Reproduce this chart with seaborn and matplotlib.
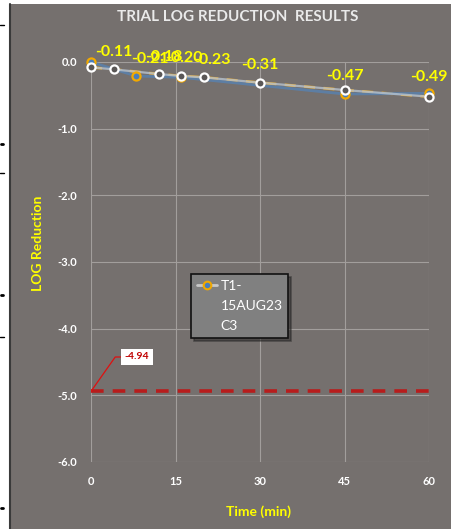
import matplotlib
matplotlib.use("Agg")
import matplotlib.pyplot as plt
import seaborn as sns
import pandas as pd
from matplotlib.lines import Line2D
from matplotlib.patches import Rectangle

# ---- data ----
times_a = [0, 8, 16, 45, 60]
vals_a = [0.0, -0.21, -0.23, -0.48, -0.47]
times_b = [0, 4, 12, 16, 20, 30, 45, 60]
vals_b = [-0.08, -0.11, -0.18, -0.21, -0.23, -0.31, -0.42, -0.52]
label_times = [4, 10.5, 13, 16.5, 21.5, 30, 45, 60]
label_vals = [-0.11, -0.21, -0.18, -0.20, -0.23, -0.31, -0.47, -0.49]
limit_value = -4.94
x_ticks = [0, 15, 30, 45, 60]
y_ticks = [0.0, -1.0, -2.0, -3.0, -4.0, -5.0, -6.0]
legend_lines = ["T1-", "15AUG23", "C3"]
title = "TRIAL LOG REDUCTION  RESULTS"
xlabel = "Time (min)"
ylabel = "LOG Reduction"

df_a = pd.DataFrame({"t": times_a, "v": vals_a})
df_b = pd.DataFrame({"t": times_b, "v": vals_b})

sns.set_theme(style="white")
plt.rcParams["font.family"] = ["Lato", "DejaVu Sans"]

BG = "#75706e"
W, H = 451, 529
fig = plt.figure(figsize=(W / 100, H / 100), dpi=100)
fig.patch.set_facecolor("white")
fig.add_artist(Rectangle((10 / W, 0), 1 - 10 / W, 1 - 4 / H, transform=fig.transFigure,
                         facecolor=BG, edgecolor="none", zorder=0))
fig.add_artist(Line2D([10 / W, 10 / W], [0, 1 - 4 / H], transform=fig.transFigure,
                      color="#3a3a3a", lw=1.5))
for yy in [25, 173, 337]:
    fig.add_artist(Line2D([0, 4 / W], [1 - yy / H] * 2, transform=fig.transFigure, color="black", lw=1))
for yy in [144, 295, 508]:
    fig.add_artist(Line2D([1 / W, 3 / W], [1 - yy / H] * 2, transform=fig.transFigure, color="black", lw=2))

ax = fig.add_axes([91 / W, (H - 462) / H, (429 - 91) / W, (462 - 62) / H])
ax.set_facecolor(BG)
ax.set_xlim(0, 60)
ax.set_ylim(-6, 0)
ax.set_xticks(x_ticks)
ax.set_yticks(y_ticks)
ax.grid(True, color="#a29e9c", lw=0.8)
for s in ax.spines.values():
    s.set_visible(False)
ax.set_xticklabels([str(t) for t in x_ticks], color="white", fontsize=8, fontweight="bold")
ax.set_yticklabels([f"{v:.1f}" for v in y_ticks], color="white", fontsize=8, fontweight="bold")
ax.tick_params(axis="x", length=0, pad=10)
ax.tick_params(axis="y", length=0, pad=10)

# red limit line
sns.lineplot(x=[0, 60], y=[limit_value, limit_value], ax=ax, color="#b81c1c", lw=2.6,
             linestyle=(0, (3.5, 2.5)), zorder=3)
ax.plot([0, 4.3, 5.4], [limit_value, -4.425, -4.425], color="#e01010", lw=0.9, zorder=4)
ax.text(8.1, -4.425, f"{limit_value:.2f}", color="#c00000", fontsize=7.5, fontweight="bold",
        ha="center", va="center", zorder=5,
        bbox=dict(boxstyle="square,pad=0.35", facecolor="white", edgecolor="none"))

# series lines
sns.lineplot(data=df_b, x="t", y="v", ax=ax, color="#e3a52a", lw=2.0,
             linestyle=(0, (4, 3)), zorder=4)
sns.lineplot(data=df_a, x="t", y="v", ax=ax, color="#5b80aa", lw=2.0, zorder=5, alpha=0.9)
sns.lineplot(data=df_b, x="t", y="v", ax=ax, color="#b8c3ce", lw=1.6, zorder=6, alpha=0.8)
sns.scatterplot(data=df_a, x="t", y="v", ax=ax, s=34, color="#4a7ebb", edgecolor="#f2a900",
                linewidth=1.6, zorder=7, clip_on=False)
sns.scatterplot(data=df_b, x="t", y="v", ax=ax, s=34, color="#5a5756", edgecolor="white",
                linewidth=1.6, zorder=8, clip_on=False)

for t, v in zip(label_times, label_vals):
    ax.annotate(f"{v:.2f}", xy=(t, v), xytext=(0, 12.5), textcoords="offset points",
                ha="center", va="center", color="#ffff00", fontsize=11.5, fontweight="bold",
                zorder=9, annotation_clip=False)

ax.set_xlabel("")
ax.set_ylabel("")

# legend (handle aligned with the first line of the wrapped label)
handle = Line2D([], [], color="#c8c8c8", lw=2, marker="o", markersize=5.5,
                markerfacecolor="#4a7ebb", markeredgecolor="#f2a900", markeredgewidth=1.5)
blank = Line2D([], [], color="none")
leg = fig.legend([handle, blank, blank], legend_lines, loc="upper left",
                 bbox_to_anchor=(191 / W, 1 - 274 / H), frameon=True, fancybox=False,
                 shadow=True, fontsize=10, handlelength=1.5, handletextpad=0.25,
                 borderpad=0.5, labelspacing=0.6, borderaxespad=0, labelcolor="white")
leg._legend_box.pad = 4
leg.get_frame().set_facecolor("#808080")
leg.get_frame().set_edgecolor("#111111")
leg.get_frame().set_linewidth(1.2)
leg.get_frame().set_alpha(1)

fig.text(238 / W, 1 - 17 / H, title, color="#eaeaea", fontsize=11, fontweight="bold",
         ha="center", va="center")
fig.text(259 / W, 1 - 512 / H, xlabel, color="#ffff00", fontsize=10, fontweight="bold",
         ha="center", va="center")
fig.text(38 / W, 1 - 243 / H, ylabel, color="#ffff00", fontsize=10, fontweight="bold",
         ha="center", va="center", rotation=90)

fig.savefig("out.png", dpi=100, facecolor=fig.get_facecolor())
